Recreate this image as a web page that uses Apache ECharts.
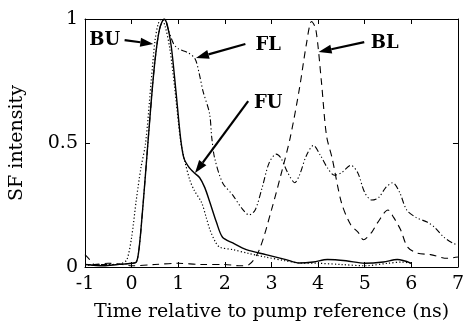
<!DOCTYPE html>
<html>
<head>
<meta charset="utf-8">
<script src="https://cdn.jsdelivr.net/npm/echarts@6/dist/echarts.min.js"></script>
<style>html,body{margin:0;padding:0;background:#fff}#c{width:467px;height:327px}</style>
</head>
<body>
<div id="c"></div>
<script>
// ---- data (x in ns, y = SF intensity) ----
var xTicks = [-1, 0, 1, 2, 3, 4, 5, 6, 7];
var yTicks = [0, 0.5, 1];

var FU = [[-1,0.01],[-0.6,0.005],[-0.3,0.01],[0,0.015],[0.1,0.02],[0.15,0.06],[0.2,0.15],[0.3,0.38],[0.4,0.62],[0.5,0.83],[0.6,0.96],[0.7,1.0],[0.76,0.98],[0.85,0.89],[0.95,0.71],[1.05,0.52],[1.12,0.44],[1.22,0.405],[1.34,0.38],[1.46,0.36],[1.57,0.32],[1.68,0.26],[1.82,0.18],[1.95,0.12],[2.17,0.097],[2.46,0.07],[2.88,0.05],[3.31,0.03],[3.59,0.016],[3.9,0.02],[4.2,0.03],[4.6,0.025],[5.0,0.015],[5.4,0.02],[5.7,0.03],[6.0,0.015]];

var BU = [[-1,0.005],[-0.5,0.01],[-0.3,0.01],[-0.2,0.015],[-0.1,0.03],[0,0.12],[0.1,0.27],[0.2,0.4],[0.3,0.5],[0.42,0.75],[0.5,0.91],[0.57,0.98],[0.64,1.0],[0.72,0.97],[0.82,0.88],[0.92,0.73],[1.05,0.51],[1.15,0.42],[1.25,0.35],[1.34,0.31],[1.5,0.26],[1.6,0.2],[1.68,0.15],[1.8,0.1],[1.89,0.08],[2.17,0.07],[2.5,0.055],[2.88,0.04],[3.3,0.025],[3.6,0.016],[4.0,0.015],[4.5,0.01],[5.0,0.005],[5.5,0.015],[5.8,0.02],[6.0,0.015]];

var FL = [[-1,0.01],[-0.5,0.01],[0,0.015],[0.1,0.02],[0.15,0.06],[0.2,0.15],[0.3,0.38],[0.4,0.62],[0.5,0.83],[0.6,0.96],[0.7,1.0],[0.8,0.95],[0.9,0.9],[1.0,0.88],[1.2,0.865],[1.36,0.84],[1.45,0.78],[1.53,0.71],[1.67,0.62],[1.72,0.52],[1.78,0.44],[1.95,0.34],[2.17,0.29],[2.35,0.24],[2.52,0.21],[2.65,0.23],[2.8,0.32],[2.95,0.42],[3.1,0.455],[3.2,0.44],[3.35,0.38],[3.5,0.34],[3.6,0.37],[3.75,0.45],[3.9,0.49],[4.05,0.45],[4.2,0.4],[4.35,0.37],[4.5,0.38],[4.7,0.41],[4.85,0.38],[5.0,0.3],[5.15,0.27],[5.3,0.28],[5.45,0.32],[5.6,0.34],[5.75,0.3],[5.9,0.23],[6.1,0.2],[6.35,0.18],[6.5,0.16],[6.7,0.12],[6.9,0.095],[7.0,0.09]];

var BL = [[-1,0.05],[-0.9,0.03],[-0.8,0.01],[-0.5,0.015],[-0.2,0.01],[0,0.005],[0.5,0.01],[1.0,0.015],[1.5,0.01],[2.0,0.01],[2.3,0.005],[2.52,0.01],[2.74,0.07],[3.0,0.23],[3.2,0.37],[3.4,0.52],[3.6,0.72],[3.75,0.9],[3.86,0.99],[3.95,0.96],[4.07,0.75],[4.18,0.53],[4.3,0.44],[4.5,0.26],[4.7,0.17],[4.86,0.14],[4.97,0.11],[5.15,0.14],[5.28,0.18],[5.5,0.23],[5.62,0.2],[5.77,0.15],[5.92,0.08],[6.13,0.056],[6.41,0.05],[6.77,0.035],[7.0,0.04]];

// annotation labels: [text, labelX, labelY, arrowFromX, arrowFromY, arrowToX, arrowToY]
var annotations = [
  ['BU', -0.575, 0.915, -0.15, 0.915, 0.465, 0.899],
  ['FL', 2.93, 0.895, 2.44, 0.899, 1.38, 0.843],
  ['FU', 2.93, 0.661, 2.50, 0.669, 1.36, 0.379],
  ['BL', 5.43, 0.903, 4.99, 0.907, 4.01, 0.867]
];

var FONT = 'DejaVu Serif';
var chart = echarts.init(document.getElementById('c'), null, {renderer: 'canvas'});

function axisBase(extra) {
  return Object.assign({
    axisLine: {show: true, onZero: false, lineStyle: {color: '#000', width: 1}},
    axisTick: {show: true, inside: true, length: 5, lineStyle: {color: '#000'}},
    splitLine: {show: false}
  }, extra);
}

var option = {
  animation: false,
  backgroundColor: '#fff',
  grid: {left: 84, top: 19, right: 6, bottom: 60, containLabel: false},
  xAxis: [
    axisBase({type: 'value', min: -1, max: 7, interval: 1, position: 'bottom',
      axisLabel: {color: '#000', fontFamily: FONT, fontSize: 19, margin: 8,
        formatter: function (v) { return xTicks.indexOf(v) >= 0 ? String(v) : ''; }},
      name: 'Time relative to pump reference (ns)', nameLocation: 'middle', nameGap: 36,
      nameTextStyle: {color: '#000', fontFamily: FONT, fontSize: 19}}),
    axisBase({type: 'value', min: -1, max: 7, interval: 1, position: 'top', axisLabel: {show: false}})
  ],
  yAxis: [
    axisBase({type: 'value', min: 0, max: 1, interval: 0.5, position: 'left',
      axisLabel: {color: '#000', fontFamily: FONT, fontSize: 19, margin: 7,
        formatter: function (v) { return yTicks.indexOf(v) >= 0 ? String(v) : ''; }},
      name: 'SF intensity', nameLocation: 'middle', nameGap: 58,
      nameTextStyle: {color: '#000', fontFamily: FONT, fontSize: 19}}),
    axisBase({type: 'value', min: 0, max: 1, interval: 0.5, position: 'right', axisLabel: {show: false}})
  ],
  series: [
    {name: 'BL', type: 'line', data: BL, smooth: 0.3, showSymbol: false, lineStyle: {color: '#000', width: 1.1, type: [7, 5]}},
    {name: 'FL', type: 'line', data: FL, smooth: 0.3, showSymbol: false, lineStyle: {color: '#000', width: 1.1, type: [6, 2.5, 1.2, 2.5, 1.2, 2.5]}},
    {name: 'BU', type: 'line', data: BU, smooth: 0.3, showSymbol: false, lineStyle: {color: '#000', width: 1.2, type: [1.2, 2.2]}},
    {name: 'FU', type: 'line', data: FU, smooth: 0.3, showSymbol: false, lineStyle: {color: '#000', width: 1.4, type: 'solid'}}
  ]
};
chart.setOption(option);

// annotations placed through the chart's own coordinate conversion
var g = [];
annotations.forEach(function (a) {
  var lp = chart.convertToPixel({gridIndex: 0}, [a[1], a[2]]);
  var p0 = chart.convertToPixel({gridIndex: 0}, [a[3], a[4]]);
  var p1 = chart.convertToPixel({gridIndex: 0}, [a[5], a[6]]);
  var dx = p1[0] - p0[0], dy = p1[1] - p0[1];
  var L = Math.sqrt(dx * dx + dy * dy), ux = dx / L, uy = dy / L;
  var hl = 13, hw = 4.5;
  var bx = p1[0] - ux * hl, by = p1[1] - uy * hl;
  g.push({type: 'line', shape: {x1: p0[0], y1: p0[1], x2: bx, y2: by}, style: {stroke: '#000', lineWidth: 2.2}, z: 100});
  g.push({type: 'polygon', shape: {points: [[p1[0], p1[1]], [bx - uy * hw, by + ux * hw], [bx + uy * hw, by - ux * hw]]}, style: {fill: '#000'}, z: 100});
  g.push({type: 'text', x: lp[0], y: lp[1], style: {text: a[0], fill: '#000', font: 'bold 18px "DejaVu Serif"', align: 'center', verticalAlign: 'middle'}, z: 100});
});
chart.setOption({graphic: g});
</script>
</body>
</html>
